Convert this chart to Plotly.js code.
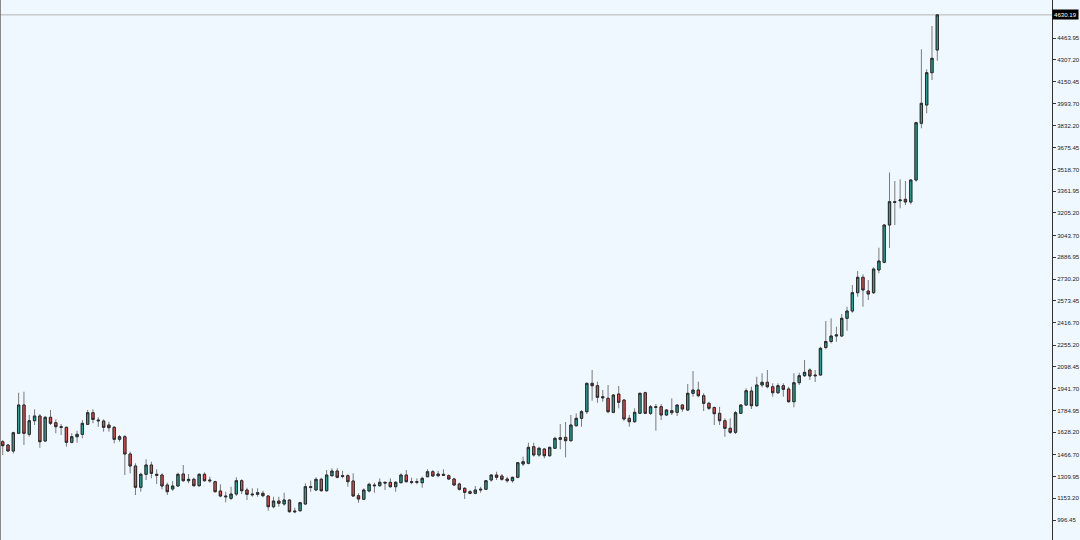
<!DOCTYPE html>
<html>
<head>
<meta charset="utf-8">
<script src="https://cdn.plot.ly/plotly-3.0.1.min.js"></script>
<style>
html,body{margin:0;padding:0;background:#F0F8FF;}
#chart{width:1080px;height:540px;}
</style>
</head>
<body>
<div id="chart"></div>
<script>
// OHLC values (oldest -> newest)
const open = [1559.7,1535.9,1492.8,1620.1,1823.7,1612.9,1710.7,1744.6,1564.7,1735.2,
1696.3,1667.6,1663.3,1555.4,1595.6,1612.9,1684.8,1768.3,1715.8,1708.6,
1679.8,1663.3,1576.9,1595.6,1471.2,1384.9,1231.6,1325.2,1392.1,1325.2,
1320.1,1248.2,1219.4,1241.0,1327.3,1279.1,1289.2,1243.2,1325.2,1284.2,
1271.9,1205.0,1169.0,1152.5,1183.4,1279.1,1212.2,1183.4,1181.3,1188.5,
1169.0,1092.1,1133.1,1111.5,1140.3,1061.2,1063.3,1111.5,1236.0,1212.2,
1289.2,1207.2,1315.1,1348.8,1315.1,1315.1,1277.0,1171.2,1145.4,1205.0,
1248.2,1243.2,1267.6,1267.6,1236.0,1264.8,1320.1,1271.9,1267.6,1264.8,
1307.9,1343.8,1315.1,1325.2,1315.1,1291.4,1255.4,1224.5,1200.0,1188.5,
1212.2,1217.3,1284.2,1320.1,1313.0,1291.4,1279.1,1303.6,1399.3,1404.3,
1523.7,1464.0,1507.2,1458.9,1512.2,1588.4,1591.3,1566.9,1674.8,1728.0,
1775.5,1979.8,1962.5,1883.4,1871.9,1771.1,1902.8,1859.7,1728.0,1703.5,
1764.0,1912.2,1764.0,1811.5,1811.5,1751.8,1782.7,1771.1,1823.7,1787.7,
1907.9,1931.6,1890.6,1835.9,1805.7,1764.0,1710.7,1656.1,1627.3,1764.0,
1823.7,1924.4,1818.7,1967.6,1987.0,1955.3,1912.2,1962.5,1938.8,1847.4,
1984.1,2034.5,2075.5,2039.5,2039.5,2237.4,2280.5,2320.1,2320.1,2447.4,
2499.9,2631.6,2742.4,2643.8,2631.6,2794.9,2850.2,3118.6,3286.2,3293.4,
3303.5,3284.1,3442.4,3850.3,3981.9,4214.3,4377.6];
const high = [1571.9,1543.1,1631.6,1912.2,1919.4,1751.8,1792.8,1758.9,1744.6,1787.7,
1720.1,1687.0,1667.6,1620.1,1638.8,1715.8,1787.7,1792.8,1735.2,1720.1,
1703.5,1672.6,1607.9,1607.9,1487.7,1404.3,1336.7,1433.1,1415.8,1361.2,
1332.3,1264.8,1277.0,1336.7,1392.1,1327.3,1300.7,1332.3,1339.5,1307.9,
1279.1,1253.2,1200.0,1236.0,1303.6,1289.2,1228.8,1224.5,1224.5,1207.2,
1176.2,1164.0,1164.0,1192.8,1145.4,1084.9,1128.1,1260.4,1279.1,1303.6,
1300.7,1356.0,1368.3,1368.3,1351.0,1325.2,1332.3,1188.5,1224.5,1264.8,
1264.8,1296.4,1271.9,1296.4,1277.0,1332.3,1356.0,1300.7,1296.4,1307.9,
1361.2,1356.0,1351.0,1361.2,1325.2,1300.7,1264.8,1231.6,1212.2,1241.0,
1236.0,1284.2,1327.3,1343.8,1327.3,1307.9,1307.9,1413.6,1451.8,1552.5,
1552.5,1523.7,1512.2,1523.7,1595.6,1687.0,1701.4,1751.8,1764.0,1787.7,
1984.1,2075.5,1991.3,1931.6,1967.6,1902.8,1960.4,1864.7,1751.8,1800.0,
1912.2,1919.4,1823.7,1830.9,1830.9,1794.9,1871.9,1828.7,1830.9,1974.7,
2068.3,1991.3,1907.9,1847.4,1812.9,1811.5,1728.0,1728.0,1780.5,1830.9,
1943.8,1955.3,2027.3,2051.8,2075.5,1979.8,1979.8,1979.8,1955.3,2051.8,
2056.0,2147.4,2087.7,2075.5,2243.1,2428.1,2447.6,2387.0,2478.3,2530.8,
2687.0,2787.7,2763.9,2723.0,2814.3,2955.3,3125.8,3496.3,3435.1,3447.3,
3435.1,3449.6,3861.8,4382.6,4238.7,4550.3,4634.0];
const low = [1464.0,1487.7,1475.5,1615.1,1535.9,1595.6,1679.8,1516.5,1559.7,1679.8,
1620.1,1607.9,1523.7,1548.2,1552.5,1584.1,1679.8,1692.0,1667.6,1631.6,
1631.6,1548.2,1559.7,1320.1,1332.3,1176.2,1200.0,1284.2,1296.4,1255.4,
1217.3,1176.2,1207.2,1236.0,1271.9,1260.4,1236.0,1236.0,1271.9,1264.8,
1195.6,1159.6,1123.7,1140.3,1169.0,1183.4,1140.3,1164.0,1164.0,1159.6,
1063.3,1080.6,1092.1,1099.3,1048.9,1044.6,1056.1,1104.3,1200.0,1207.2,
1200.0,1200.0,1307.9,1296.4,1296.4,1236.0,1164.0,1120.9,1140.3,1195.6,
1192.8,1236.0,1212.2,1228.8,1200.0,1260.4,1267.6,1253.2,1253.2,1228.8,
1303.6,1307.9,1303.6,1313.0,1284.2,1241.0,1207.2,1147.5,1181.3,1181.3,
1192.8,1212.2,1271.9,1284.2,1279.1,1264.8,1264.8,1296.4,1384.9,1397.1,
1451.8,1451.8,1440.2,1451.8,1507.2,1505.0,1447.4,1559.7,1667.6,1667.6,
1758.9,1854.6,1840.2,1847.4,1764.0,1764.0,1800.0,1710.7,1667.6,1696.3,
1758.9,1758.9,1751.8,1638.8,1715.8,1744.6,1751.8,1744.6,1775.5,1780.5,
1883.4,1879.1,1780.5,1787.7,1679.8,1679.8,1595.6,1615.1,1615.1,1758.9,
1816.5,1794.9,1811.5,1950.8,1943.8,1883.4,1902.8,1883.4,1840.2,1807.1,
1967.6,2025.1,2003.6,1989.2,2032.3,2224.4,2267.5,2279.1,2315.0,2358.2,
2487.7,2602.8,2530.8,2579.1,2622.2,2771.1,2843.0,2953.1,3118.6,3238.8,
3262.6,3267.0,3430.1,3814.3,3922.2,4161.8,4300.6];
const close = [1530.9,1492.8,1624.4,1823.7,1620.1,1710.7,1744.6,1559.7,1735.2,1692.0,
1667.6,1663.3,1555.4,1595.6,1612.9,1692.0,1768.3,1720.1,1710.7,1663.3,
1660.4,1576.9,1595.6,1471.2,1384.9,1231.6,1325.2,1392.1,1332.3,1318.0,
1241.0,1200.0,1241.0,1325.2,1279.1,1289.2,1243.2,1325.2,1279.1,1279.1,
1200.0,1169.0,1164.0,1183.4,1279.1,1207.2,1181.3,1178.4,1192.8,1171.2,
1092.1,1133.1,1116.6,1140.3,1056.1,1056.1,1120.9,1236.0,1231.6,1289.2,
1207.2,1320.1,1348.8,1303.6,1310.8,1271.9,1169.0,1147.5,1212.2,1253.2,
1243.2,1267.6,1262.6,1236.0,1267.6,1320.1,1271.9,1267.6,1271.9,1296.4,
1343.8,1313.0,1327.3,1318.0,1291.4,1248.2,1217.3,1195.6,1188.5,1212.2,
1217.3,1279.1,1320.1,1303.6,1289.2,1279.1,1303.6,1408.6,1415.8,1519.4,
1464.0,1512.2,1458.9,1519.4,1584.1,1576.9,1566.9,1679.8,1728.0,1775.5,
1979.8,1962.5,1879.1,1876.2,1775.5,1895.6,1843.1,1723.0,1703.5,1771.1,
1907.9,1764.0,1811.5,1807.1,1751.8,1787.7,1768.3,1823.7,1794.9,1907.9,
1931.6,1890.6,1835.9,1800.0,1761.1,1710.7,1656.1,1627.3,1768.3,1823.7,
1926.6,1818.7,1967.6,1987.0,1955.3,1912.2,1962.5,1936.6,1847.4,1984.1,
2034.5,2058.9,2032.3,2034.5,2231.6,2280.5,2320.1,2327.3,2447.4,2499.9,
2631.6,2742.4,2651.0,2622.2,2802.1,2859.6,3118.6,3286.2,3281.9,3298.5,
3284.1,3442.4,3854.6,3994.1,4214.3,4317.9,4630.19];

const tickValues = [4463.95,4307.20,4150.45,3993.70,3832.20,3675.45,3518.70,3361.95,3205.20,3043.70,
2886.95,2730.20,2573.45,2416.70,2255.20,2098.45,1941.70,1784.95,1628.20,1466.70,1309.95,1153.20,996.45];
const tickLabels = tickValues.map(v => v.toFixed(2));
const lastPrice = 4630.19;

const bar = open.map((_, i) => i);
const bodyTop = open.map((o, i) => Math.max(o, close[i]));
const bodyBottom = open.map((o, i) => Math.min(o, close[i]));

const UP = '#22A595', DOWN = '#EE4B4B', WICK = '#7a7a7a', EDGE = '#2a2a2a';
const BG = '#F0F8FF';
const FONT = 'Liberation Sans, Arial, sans-serif';

const wicks = {
  type: 'candlestick', x: bar, open: open, high: high, low: low, close: close,
  increasing: {line: {color: WICK, width: 1}, fillcolor: UP},
  decreasing: {line: {color: WICK, width: 1}, fillcolor: DOWN},
  whiskerwidth: 0, hoverinfo: 'skip', showlegend: false
};
const bodies = {
  type: 'candlestick', x: bar, open: open, high: bodyTop, low: bodyBottom, close: close,
  increasing: {line: {color: EDGE, width: 1}, fillcolor: UP},
  decreasing: {line: {color: EDGE, width: 1}, fillcolor: DOWN},
  whiskerwidth: 0, hoverinfo: 'skip', showlegend: false
};

const layout = {
  width: 1080, height: 540,
  margin: {l: 0, r: 28, t: 0, b: 0, pad: 0},
  paper_bgcolor: BG, plot_bgcolor: BG,
  showlegend: false, boxgap: 0.38,
  xaxis: {
    range: [-0.51, 197.6], showgrid: false, zeroline: false, showticklabels: false,
    ticks: '', showline: false, rangeslider: {visible: false}, fixedrange: true
  },
  yaxis: {
    side: 'right', range: [852.6, 4737.3],
    tickmode: 'array', tickvals: tickValues, ticktext: tickLabels,
    ticks: 'outside', ticklen: 3, tickcolor: '#333', tickwidth: 1,
    showline: true, linecolor: '#333', linewidth: 1,
    showgrid: false, zeroline: false, fixedrange: true,
    tickfont: {family: FONT, size: 6.1, color: '#222'}
  },
  shapes: [
    {type: 'line', xref: 'paper', x0: 0, x1: 1, yref: 'y', y0: lastPrice, y1: lastPrice,
     line: {color: '#B4B4B4', width: 1}, layer: 'below'},
    {type: 'line', xref: 'paper', x0: 0, x1: 0, yref: 'paper', y0: 0, y1: 1,
     line: {color: '#666', width: 1.5}}
  ],
  annotations: [
    {xref: 'paper', x: 1, xanchor: 'left', xshift: 0, yref: 'y', y: lastPrice, yanchor: 'middle',
     text: lastPrice.toFixed(2), showarrow: false, bgcolor: '#000', borderpad: 1,
     font: {family: FONT, size: 6.1, color: '#fff'}}
  ]
};

Plotly.newPlot('chart', [wicks, bodies], layout, {displayModeBar: false, staticPlot: true});
</script>
</body>
</html>
